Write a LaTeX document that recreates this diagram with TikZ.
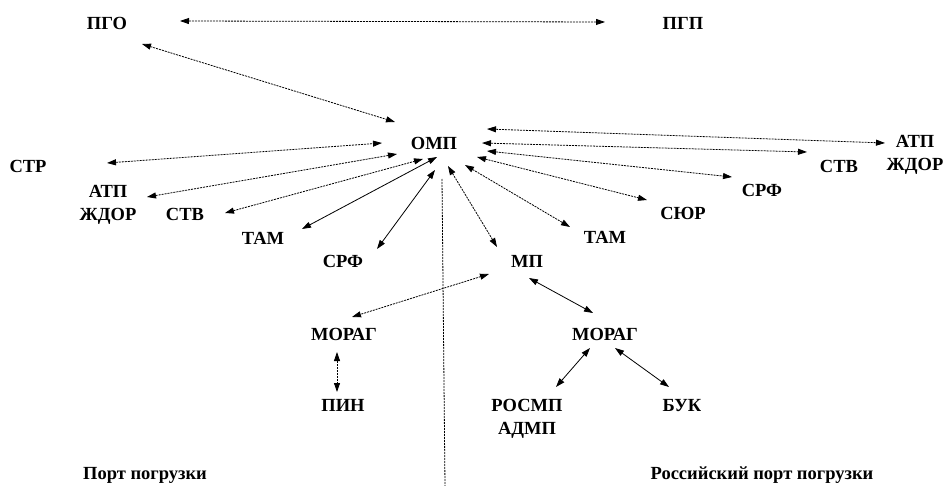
\documentclass[tikz,border=0pt]{standalone}
\usepackage{fontspec}
\setmainfont{Liberation Serif}
\usetikzlibrary{arrows.meta}
\newcommand\twoline[2]{\begin{tabular}[t]{@{}c@{}}#1\\#2\end{tabular}}
\begin{document}
\begin{tikzpicture}[x=1pt,y=-1pt,
  lbl/.style={inner sep=0pt, anchor=base, font=\fontsize{18.5}{23}\selectfont\bfseries},
  link/.style={{Triangle[length=9pt,width=6pt]}-{Triangle[length=9pt,width=6pt]}, line width=0.8pt},
  dlink/.style={link, dash pattern=on 2pt off 1pt},
  vline/.style={line width=0.8pt, dash pattern=on 2pt off 1pt},
]
\useasboundingbox[fill=white] (0,0) rectangle (945,486);

% nodes
\node[lbl] (pgo) at (107,30) {ПГО};
\node[lbl] (pgp) at (683,30) {ПГП};
\node[lbl] (omp) at (434,150) {ОМП};
\node[lbl] (str) at (28,173) {СТР};
\node[lbl] (atpL) at (108,198) {\twoline{АТП}{ЖДОР}};
\node[lbl] (stvL) at (185,221) {СТВ};
\node[lbl] (tamL) at (263,245) {ТАМ};
\node[lbl] (srfL) at (343,268) {СРФ};
\node[lbl] (mp) at (527,268) {МП};
\node[lbl] (tamR) at (605,244) {ТАМ};
\node[lbl] (syur) at (683,220) {СЮР};
\node[lbl] (srfR) at (762,197) {СРФ};
\node[lbl] (stvR) at (839,173) {СТВ};
\node[lbl] (atpR) at (915,148) {\twoline{АТП}{ЖДОР}};
\node[lbl] (moragL) at (344,340) {МОРАГ};
\node[lbl] (pin) at (343,411) {ПИН};
\node[lbl] (moragR) at (605,340) {МОРАГ};
\node[lbl] (rosmp) at (527,411) {\twoline{РОСМП}{АДМП}};
\node[lbl] (buk) at (682,411) {БУК};
\node[lbl] (port) at (145,479) {Порт погрузки};
\node[lbl] (rport) at (762,479) {Российский порт погрузки};

\coordinate (vtop) at (442,179);
\coordinate (vbot) at (445,486);

% connectors
\draw[dlink] ([shift={(73,-9)}]pgo.base) -- ([shift={(-78,-8)}]pgp.base);
\draw[dlink] ([shift={(35,14)}]pgo.base) -- ([shift={(-39,-28)}]omp.base);
\draw[dlink] ([shift={(79,-10)}]str.base) -- ([shift={(-52,-7)}]omp.base);
\draw[dlink] ([shift={(39,-1)}]atpL.base) -- ([shift={(-37,4)}]omp.base);
\draw[dlink] ([shift={(40,-8)}]stvL.base) -- ([shift={(-11,9)}]omp.base);
\draw[link] ([shift={(39,-16)}]tamL.base) -- ([shift={(3,7)}]omp.base);
\draw[link] ([shift={(34,-19)}]srfL.base) -- ([shift={(1,20)}]omp.base);
\draw[dlink] ([shift={(14,16)}]omp.base) -- ([shift={(-30,-21)}]mp.base);
\draw[dlink] ([shift={(31,15)}]omp.base) -- ([shift={(-35,-17)}]tamR.base);
\draw[dlink] ([shift={(43,7)}]omp.base) -- ([shift={(-36,-20)}]syur.base);
\draw[dlink] ([shift={(53,1)}]omp.base) -- ([shift={(-30,-20)}]srfR.base);
\draw[dlink] ([shift={(48,-7)}]omp.base) -- ([shift={(-32,-21)}]stvR.base);
\draw[dlink] ([shift={(53,-21)}]omp.base) -- ([shift={(-30,-5)}]atpR.base);
\draw[dlink] ([shift={(-38,6)}]mp.base) -- ([shift={(8,-23)}]moragL.base);
\draw[link] ([shift={(2,10)}]mp.base) -- ([shift={(-12,-27)}]moragR.base);
\draw[dlink] ([shift={(-7,12)}]moragL.base) -- ([shift={(-6,-19)}]pin.base);
\draw[link] ([shift={(-15,8)}]moragR.base) -- ([shift={(29,-24)}]rosmp.base);
\draw[link] ([shift={(10,8)}]moragR.base) -- ([shift={(-13,-24)}]buk.base);
\draw[vline] (vtop) -- (vbot);
\end{tikzpicture}
\end{document}
